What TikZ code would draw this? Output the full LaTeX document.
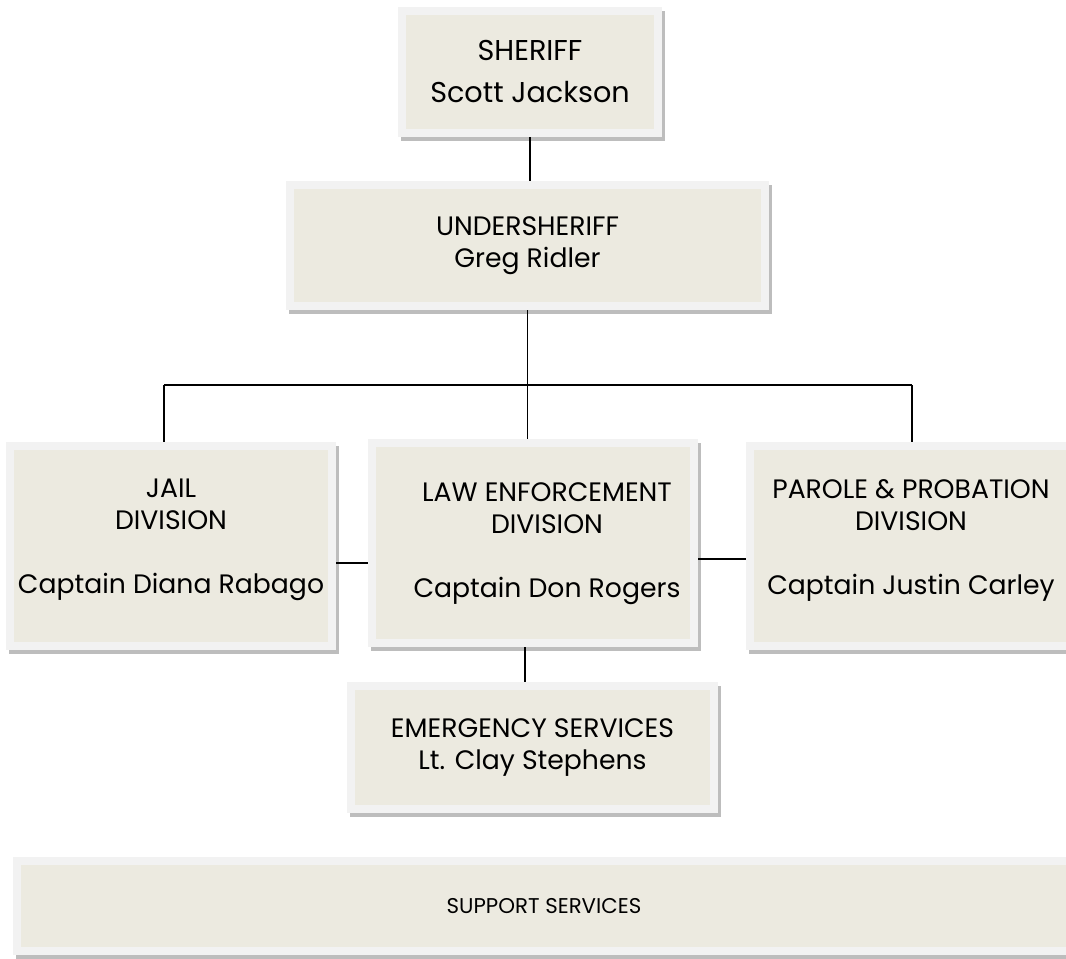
\documentclass[tikz,border=0pt]{standalone}
\usepackage{fontspec}
\setmainfont{Poppins}
\definecolor{boxfill}{HTML}{ECEAE0}
\definecolor{boxrim}{HTML}{F2F2F2}
\definecolor{shadowgray}{HTML}{BDBDBD}
\begin{document}
\begin{tikzpicture}
        [x=0.75pt, y=-0.75pt,
         box_style/.style={rectangle, fill=boxfill, draw=boxrim, line width=6pt,
                inner sep=0pt, align=center, font=\fontsize{20}{24}\selectfont,
                preaction={draw=shadowgray, fill=shadowgray,
                           transform canvas={shift={(2.25pt,-3pt)}}}},
         box_size/.style 2 args={minimum width=#1*0.75pt, minimum height=#2*0.75pt},
         edge_style/.style={draw=black, line width=1.4pt}]
            \useasboundingbox (0,0) rectangle (1066,958);
            \clip (0,0) rectangle (1066,958);
            \node[box_style, box_size={256}{122}, font=\fontsize{21.5}{31.5}\selectfont]
                (sheriff) at (530, 72) {SHERIFF\\Scott Jackson};
            \node[box_style, box_size={475}{121}] (under) at (527.5, 245.5)
                {UNDERSHERIFF\\Greg Ridler};
            \node[box_style, box_size={322}{200}, text depth=14pt] (jail) at (171, 546)
                {JAIL\\DIVISION\\[24pt]Captain Diana Rabago};
            \node[box_style, box_size={322}{200}] (law) at (533, 543)
                {\hspace*{21pt}\begin{tabular}{@{}c@{}}LAW ENFORCEMENT\\DIVISION\\[24pt]Captain Don Rogers\end{tabular}};
            \node[box_style, box_size={322}{200}, text depth=14pt] (parole) at (911, 546)
                {PAROLE \& PROBATION\\DIVISION\\[24pt]Captain Justin Carley};
            \node[box_style, box_size={363}{123}] (emergency) at (532.5, 747.5)
                {EMERGENCY SERVICES\\Lt. Clay Stephens};
            \node[box_style, box_size={1054}{90}, font=\fontsize{16}{20}\selectfont]
                (support) at (544, 906) {SUPPORT SERVICES};
            % bus between the undersheriff and the divisions
            \coordinate (busL) at (164, 385);
            \coordinate (busR) at (912, 385);
            \draw[edge_style]  (sheriff.south) -- (sheriff.south |- under.north);
            \draw[edge_style]  (under.south) -- (under.south |- law.north);
            \draw[edge_style]  (busL) -- (busR);
            \draw[edge_style]  (busL) -- (busL |- jail.north);
            \draw[edge_style]  (busR) -- (busR |- parole.north);
            \draw[edge_style]  (jail.east |- 0,563) -- (law.west |- 0,563);
            \draw[edge_style]  (law.east |- 0,559) -- (parole.west |- 0,559);
            \draw[edge_style]  (law.south -| 525,0) -- (emergency.north -| 525,0);
        \end{tikzpicture}
\end{document}
